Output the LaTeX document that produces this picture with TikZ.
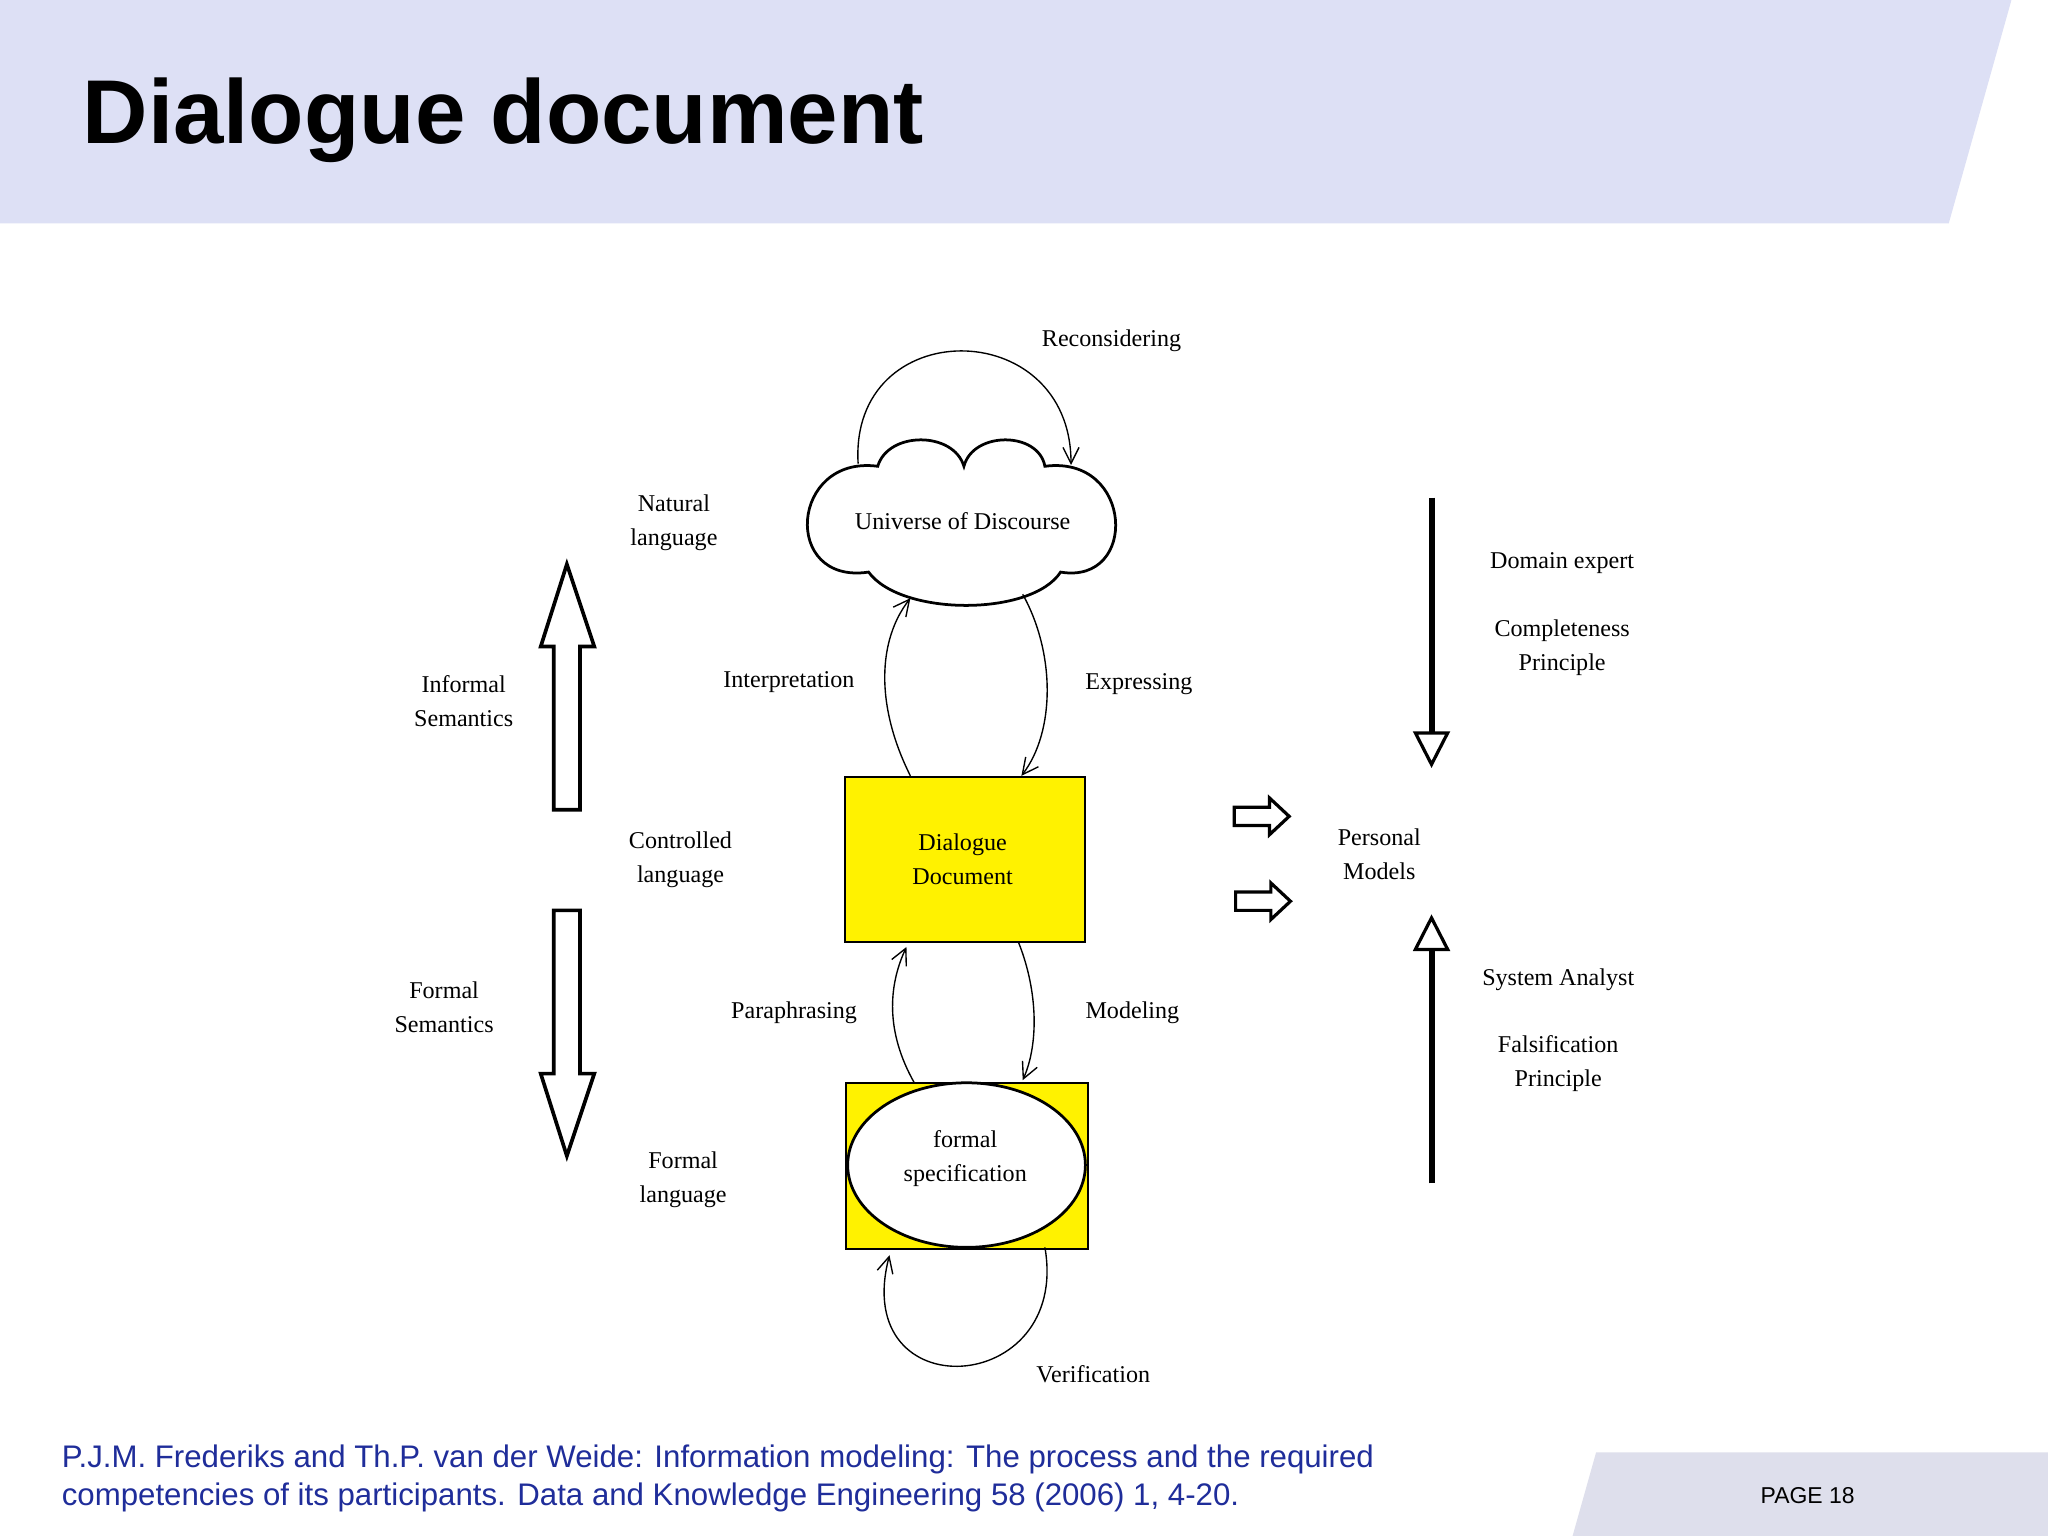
\documentclass[tikz,border=0pt]{standalone}
\usepackage{fontspec}
\setmainfont{Liberation Serif}
\newfontfamily\arialf{Liberation Sans}
\usetikzlibrary{arrows.meta,shapes.geometric}
\begin{document}
\begin{tikzpicture}[x=0.02cm,y=-0.02cm,
  lbl/.style={font=\fontsize{10.5}{14.8}\selectfont,align=center,inner sep=0pt},
  conn/.style={line width=0.6pt,-{Straight Barb[length=7pt,width=7pt]}},
  yel/.style={draw,line width=0.8pt,fill=yellow},
  thick2/.style={line width=2.6pt,-{Triangle[open,length=16pt,width=16pt,line width=1.4pt]}}]
\useasboundingbox (0,0) rectangle (1568,1176);
\fill[white] (0,0) rectangle (1568,1176);
\fill[fill={rgb,255:red,221;green,224;blue,245}] (0,0)--(1540,0)--(1492,171)--(0,171)--cycle;
\fill[fill={rgb,255:red,222;green,223;blue,236}] (1222,1112)--(1568,1112)--(1568,1176)--(1204,1176)--cycle;
\node[anchor=west,font=\arialf\bfseries\fontsize{39.5}{42}\selectfont,inner sep=0pt] (title) at (63,92) {Dialogue document};
\node[font=\arialf\fontsize{10}{12}\selectfont,inner sep=0pt] (page) at (1384,1145) {PAGE 18};
\node[anchor=north west,align=left,inner sep=0pt,text={rgb,255:red,31;green,45;blue,154},font=\arialf\fontsize{13.6}{16.5}\selectfont] (ref) at (47,1106) {P.J.M. Frederiks and Th.P. van der Weide: Information modeling: The process and the required\\competencies of its participants. Data and Knowledge Engineering 58 (2006) 1, 4-20.};
% cloud
\draw[line width=1.2pt,fill=white] (672,357) .. controls (605,348) and (598,448) .. (665,438)
  .. controls (690,472) and (790,472) .. (812,438)
  .. controls (872,448) and (868,348) .. (800,357)
  .. controls (795,330) and (745,330) .. (738,357)
  .. controls (730,330) and (680,330) .. (672,357) -- cycle;
\node[lbl] (uod) at (737,399) {Universe of Discourse};
% boxes
\draw[yel] (647,595) rectangle (831,721);
\node[lbl] (dd) at (737,658) {Dialogue\\Document};
\draw[yel] (648,829) rectangle (833,956);
\draw[line width=1.2pt,fill=white] (740,892) ellipse [x radius=91, y radius=63];
\node[lbl] (fs) at (739,887) {formal\\specification};
% connectors
\coordinate (r1) at (657,355); \coordinate (r2) at (820,356);
\draw[conn] (r1) .. controls (650,240) and (820,240) .. (r2);
\coordinate (i1) at (697,594); \coordinate (i2) at (697,458);
\draw[conn] (i1) .. controls (670,540) and (672,490) .. (i2);
\coordinate (e1) at (783,455); \coordinate (e2) at (782,594);
\draw[conn] (e1) .. controls (808,500) and (808,560) .. (e2);
\coordinate (p1) at (700,829); \coordinate (p2) at (694,725);
\draw[conn] (p1) .. controls (678,790) and (680,755) .. (p2);
\coordinate (m1) at (780,722); \coordinate (m2) at (783,827);
\draw[conn] (m1) .. controls (795,760) and (795,800) .. (m2);
\coordinate (v1) at (800,955); \coordinate (v2) at (681,961);
\draw[conn] (v1) .. controls (820,1070) and (650,1080) .. (v2);
% hollow arrows
\draw[line width=1.6pt,fill=white] (424,620)--(424,495)--(414,495)--(434,432)--(455,495)--(444,495)--(444,620)--cycle;
\draw[line width=1.6pt,fill=white] (424,697)--(424,822)--(414,822)--(434,885)--(455,822)--(444,822)--(444,697)--cycle;
\draw[line width=1.4pt,fill=white] (945,618)--(972,618)--(972,611)--(987,625)--(972,639)--(972,632)--(945,632)--cycle;
\draw[line width=1.4pt,fill=white] (946,683)--(973,683)--(973,676)--(988,690)--(973,704)--(973,697)--(946,697)--cycle;
\coordinate (a1) at (1096,381); \coordinate (a2) at (1096,588);
\draw[thick2] (a1) -- (a2);
\coordinate (b1) at (1096,906); \coordinate (b2) at (1096,700);
\draw[thick2] (b1) -- (b2);
% labels
\node[lbl] (l1) at (851,261) {Reconsidering};
\node[lbl] (l2) at (516,400) {Natural\\language};
\node[lbl] (l3) at (355,537) {Informal\\Semantics};
\node[lbl] (l4) at (604,522) {Interpretation};
\node[lbl] (l5) at (872,524) {Expressing};
\node[lbl] (l6) at (521,658) {Controlled\\language};
\node[lbl] (l7) at (340,771) {Formal\\Semantics};
\node[lbl] (l8) at (608,775) {Paraphrasing};
\node[lbl] (l9) at (867,775) {Modeling};
\node[lbl] (l10) at (523,903) {Formal\\language};
\node[lbl] (l11) at (1056,654) {Personal\\Models};
\node[lbl] (l12) at (1196,431) {Domain expert};
\node[lbl] (l13) at (1196,496) {Completeness\\Principle};
\node[lbl] (l14) at (1193,750) {System Analyst};
\node[lbl] (l15) at (1193,814) {Falsification\\Principle};
\node[lbl] (l16) at (837,1052) {Verification};
\end{tikzpicture}
\end{document}
